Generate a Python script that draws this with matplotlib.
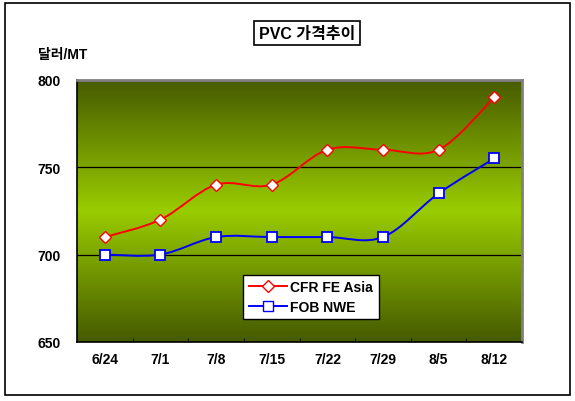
import numpy as np
import matplotlib.pyplot as plt
from matplotlib.path import Path
from matplotlib.patches import PathPatch, Rectangle
from matplotlib.colors import LinearSegmentedColormap
from matplotlib.lines import Line2D

plt.rcParams['font.family'] = ['Liberation Sans', 'Noto Sans CJK KR']
plt.rcParams['font.weight'] = 'bold'

# Datos
fechas = ['6/24', '7/1', '7/8', '7/15', '7/22', '7/29', '8/5', '8/12']
cfr = [710, 720, 740, 740, 760, 760, 760, 790]
fob = [700, 700, 710, 710, 710, 710, 735, 755]


def curvaSuave(xs, ys):
    # Bezier tipo Catmull-Rom para imitar la linea suavizada de Excel
    pts = np.column_stack([xs, ys]).astype(float)
    n = len(pts)
    verts = [pts[0]]
    codes = [Path.MOVETO]
    for i in range(n - 1):
        p0 = pts[max(i - 1, 0)]
        p1 = pts[i]
        p2 = pts[i + 1]
        p3 = pts[min(i + 2, n - 1)]
        c1 = p1 + (p2 - p0) / 6
        c2 = p2 - (p3 - p1) / 6
        verts += [c1, c2, p2]
        codes += [Path.CURVE4] * 3
    return Path(verts, codes)


fig = plt.figure(figsize=(5.75, 4.02), dpi=100)
ax = fig.add_axes([0.134, 0.147, 0.774, 0.652])

# Fondo degradado
cmap = LinearSegmentedColormap.from_list('fondo', ['#465a00', '#99cc00', '#465a00'])
grad = np.linspace(0, 1, 256).reshape(-1, 1)
ax.imshow(grad, cmap=cmap, aspect='auto', extent=[0, 1, 0, 1],
          transform=ax.transAxes, zorder=0)

x = np.arange(len(fechas))
ax.set_xlim(-0.5, len(fechas) - 0.5)
ax.set_ylim(650, 800)
ax.set_yticks([650, 700, 750, 800])
ax.set_xticks(x)
ax.set_xticklabels(fechas)
ax.set_xticks(np.arange(0.5, len(fechas) - 1), minor=True)
ax.tick_params(axis='x', which='major', length=0, pad=7, labelsize=10)
ax.tick_params(axis='x', which='minor', length=3, direction='in')
ax.tick_params(axis='y', length=0, pad=12, labelsize=10)

for v in [700, 750]:
    ax.axhline(v, color='black', linewidth=0.9, zorder=1)

ax.add_patch(PathPatch(curvaSuave(x, cfr), facecolor='none', edgecolor='#ff0000',
                       linewidth=1.4, transform=ax.transData, zorder=2))
ax.add_patch(PathPatch(curvaSuave(x, fob), facecolor='none', edgecolor='#0000ff',
                       linewidth=1.4, transform=ax.transData, zorder=2))
ax.plot(x, cfr, linestyle='none', marker='D', markersize=6, markerfacecolor='white',
        markeredgecolor='#ff0000', markeredgewidth=1.0, zorder=3)
ax.plot(x, fob, linestyle='none', marker='s', markersize=7.5, markerfacecolor='white',
        markeredgecolor='#0000ff', markeredgewidth=1.3, zorder=3)

for lado in ['top', 'right']:
    ax.spines[lado].set_color('#808080')
    ax.spines[lado].set_linewidth(2)
for lado in ['left', 'bottom']:
    ax.spines[lado].set_color('black')
    ax.spines[lado].set_linewidth(1.2)

handles = [Line2D([], [], color='#ff0000', marker='D', markersize=6, markerfacecolor='white',
                  markeredgecolor='#ff0000', linewidth=1.4),
           Line2D([], [], color='#0000ff', marker='s', markersize=7, markerfacecolor='white',
                  markeredgecolor='#0000ff', linewidth=1.4)]
leg = ax.legend(handles, ['CFR FE Asia', 'FOB NWE'], loc='upper left',
                bbox_to_anchor=(0.373, 0.257), frameon=True, fancybox=False,
                fontsize=10, handlelength=2.8, handletextpad=0.2,
                borderpad=0.4, labelspacing=0.4, borderaxespad=0)
leg.get_frame().set_edgecolor('black')
leg.get_frame().set_linewidth(1.0)
leg.get_frame().set_alpha(1)

# Titulo en caja
fig.text(0.5347, 0.915, 'PVC 가격추이', ha='center', va='center', fontsize=11.5,
         bbox=dict(boxstyle='square,pad=0.3', facecolor='white', edgecolor='black', linewidth=1.2))
fig.text(0.066, 0.863, '달러/MT', ha='left', va='center', fontsize=10)

# Marco del grafico
fig.patches.append(Rectangle((0.008, 0.015), 0.984, 0.975, transform=fig.transFigure,
                             facecolor='none', edgecolor='black', linewidth=1.2))

fig.savefig('out.png', dpi=100)
